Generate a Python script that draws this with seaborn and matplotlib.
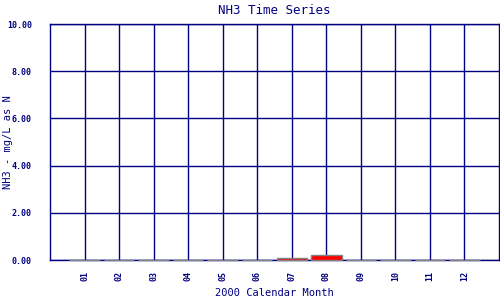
import matplotlib
matplotlib.use("Agg")
import matplotlib.pyplot as plt
import seaborn as sns
import pandas as pd
from matplotlib.ticker import FormatStrFormatter

months = ["01", "02", "03", "04", "05", "06", "07", "08", "09", "10", "11", "12"]
nh3 = [0, 0, 0, 0, 0, 0, 0.07, 0.21, 0, 0, 0, 0]

df = pd.DataFrame({"month": months, "nh3": nh3})

sns.set_style("white")
plt.rcParams["font.family"] = ["DejaVu Sans Mono", "DejaVu Sans"]
navy = "#000080"

fig = plt.figure(figsize=(5, 3), dpi=100)
ax = fig.add_axes([0.1, 0.1333, 0.898, 0.7867])
sns.barplot(data=df, x="month", y="nh3", color="#ff0000", edgecolor="#808080",
            linewidth=1, width=0.88, saturation=1, ax=ax, zorder=3)
for p in ax.patches:
    p.set_facecolor("#ff0000")
    p.set_clip_on(False)
    p.set_zorder(4)

ax.set_xlim(-1, 12)
ax.set_ylim(0, 10)
ax.set_yticks([0, 2, 4, 6, 8, 10])
ax.yaxis.set_major_formatter(FormatStrFormatter("%.2f"))
ax.grid(True, color=navy, linewidth=1)
ax.set_axisbelow(True)
for s in ax.spines.values():
    s.set_color(navy)
    s.set_linewidth(1)
    s.set_visible(True)
ax.tick_params(axis="y", direction="out", length=5, width=1, color=navy,
               labelcolor=navy, labelsize=6, pad=8)
ax.tick_params(axis="x", length=0, labelcolor=navy, labelsize=6, pad=8, rotation=90)
for lab in ax.get_yticklabels() + ax.get_xticklabels():
    lab.set_fontweight("bold")

ax.set_title("NH3 Time Series", color=navy, fontsize=9, pad=7)
ax.set_xlabel("2000 Calendar Month", color=navy, fontsize=7.5)
ax.set_ylabel("NH3 - mg/L as N", color=navy, fontsize=7.5)
ax.xaxis.set_label_coords(0.5, -0.118)
ax.yaxis.set_label_coords(-0.082, 0.5)

fig.savefig("out.png", dpi=100, facecolor="white")
